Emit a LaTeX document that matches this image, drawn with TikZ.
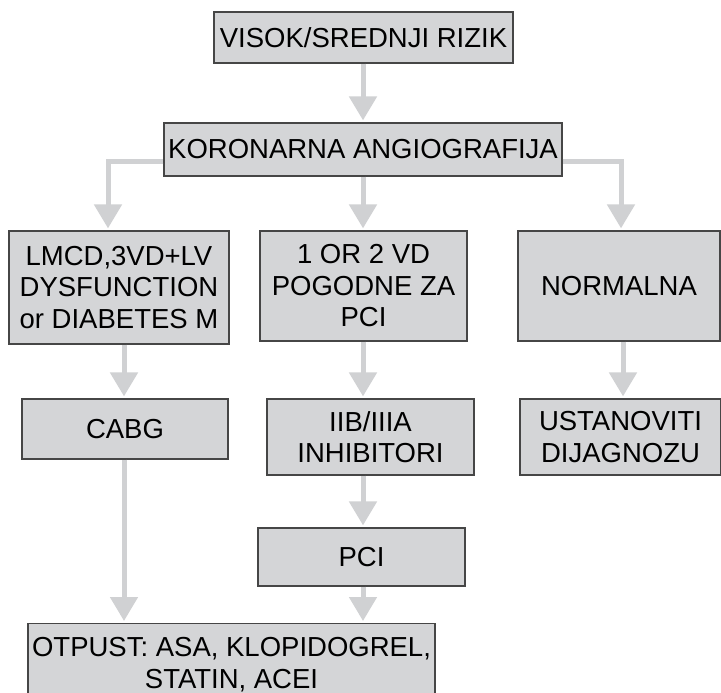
\documentclass[tikz,border=0pt]{standalone}
\usepackage{fontspec}
\setmainfont{Liberation Sans}
\usetikzlibrary{arrows.meta}
\definecolor{boxfill}{RGB}{212,213,215}
\definecolor{boxline}{RGB}{70,70,70}
\definecolor{arrowgray}{RGB}{208,209,211}
\begin{document}
\begin{tikzpicture}[x=1pt,y=-1pt,
  box/.style={draw=boxline,fill=boxfill,line width=1.2pt,inner sep=0pt,
    align=center,font=\fontsize{27.5}{31.5}\selectfont},
  arr/.style={draw=arrowgray,line width=5pt,
    -{Triangle[width=27pt,length=24pt]},shorten >=2pt}]
\useasboundingbox (0,0) rectangle (721,693);
\clip (0,0) rectangle (721,693);

% boxes
\node[box,minimum width=299pt,minimum height=51pt] (top) at (363.5,37.5) {VISOK/SREDNJI RIZIK};
\node[box,minimum width=398pt,minimum height=53pt] (kor) at (363,149.5) {KORONARNA ANGIOGRAFIJA};
\node[box,minimum width=220pt,minimum height=113pt] (lmcd) at (119,287.5) {LMCD,3VD+LV\\DYSFUNCTION\\or DIABETES M};
\node[box,minimum width=207pt,minimum height=110pt] (vd) at (363.5,286) {1 OR 2 VD\\POGODNE ZA\\PCI};
\node[box,minimum width=202pt,minimum height=110pt] (norm) at (619,286) {NORMALNA};
\node[box,minimum width=206pt,minimum height=60pt] (cabg) at (125,429) {CABG};
\node[box,minimum width=207pt,minimum height=76pt] (iib) at (370.5,437) {IIB/IIIA\\INHIBITORI};
\node[box,minimum width=201pt,minimum height=76pt] (ust) at (620.5,437) {USTANOVITI\\DIJAGNOZU};
\node[box,minimum width=207pt,minimum height=58pt] (pci) at (361.5,557) {PCI};
\node[box,minimum width=407pt,minimum height=82pt,anchor=north] (otp) at (231.5,623) {OTPUST: ASA, KLOPIDOGREL,\\STATIN, ACEI};

% column and level references for the connectors
\coordinate (cL) at (108,0);
\coordinate (cA) at (124,0);
\coordinate (cM) at (363,0);
\coordinate (cR) at (621,0);
\coordinate (cU) at (623,0);
\coordinate (hy) at (0,161);

% connectors
\draw[arr] (top.south -| cM) -- (kor.north -| cM);
\draw[arr] (kor.west |- hy) -| (lmcd.north -| cL);
\draw[arr] (kor.south -| cM) -- (vd.north -| cM);
\draw[arr] (kor.east |- hy) -| (norm.north -| cR);
\draw[arr] (lmcd.south -| cA) -- (cabg.north -| cA);
\draw[arr] (vd.south -| cM) -- (iib.north -| cM);
\draw[arr] (norm.south -| cU) -- (ust.north -| cU);
\draw[arr] (iib.south -| cM) -- (pci.north -| cM);
\draw[arr] (cabg.south -| cA) -- (otp.north -| cA);
\draw[arr] (pci.south -| cM) -- (otp.north -| cM);
\end{tikzpicture}
\end{document}
